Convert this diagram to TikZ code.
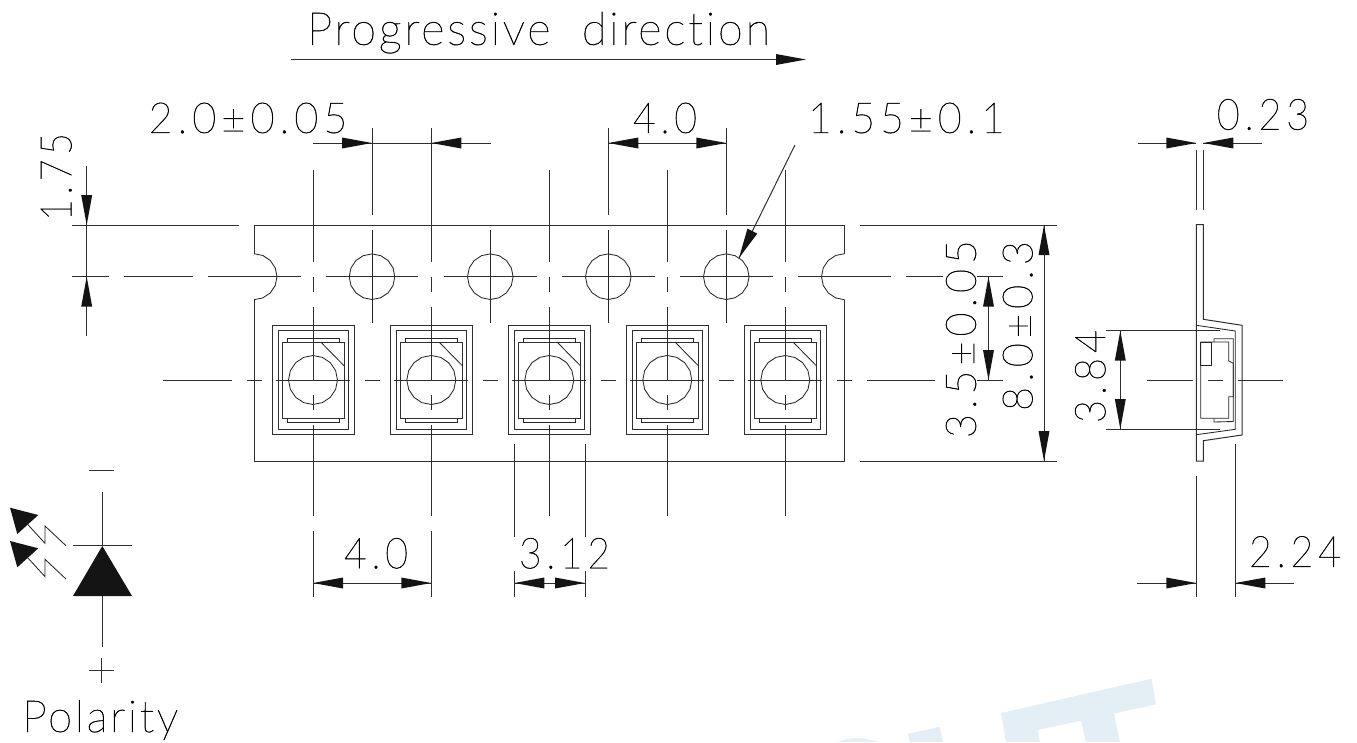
\documentclass[tikz,border=0pt]{standalone}
\usepackage{graphicx}
\usepackage{fontspec}
\setmainfont{Lato Thin}[LetterSpace=12,FakeBold=1]
\newfontfamily\wordfont{Lato Thin}[LetterSpace=6,FakeBold=1,Ligatures=NoCommon]
\tikzset{
  ln/.style={line width=1pt,draw=black!82,line cap=butt,line join=miter},
  thinln/.style={line width=0.85pt,draw=black!85,line cap=butt,line join=miter},
  txt/.style={inner sep=0pt,outer sep=0pt,text=black,font=\fontsize{42}{46}\selectfont}
}
\definecolor{wmblue}{HTML}{E3EEF5}
% text of given width and total height, centred at a point
\newcommand{\cadtext}[6][0]{\node[txt,rotate=#1] (#2) at (#3) {\resizebox*{#4pt}{#5pt}{#6}};}
% arrowhead: tip position, screen direction (clockwise from +x)
\newcommand{\tip}[2]{\fill[black!92,shift={(#1)},rotate=-#2] (0,0) -- (-30,5.5) -- (-30,-5.5) -- cycle;}
\newcommand{\holecirc}[3]{\draw[thinln] plot[samples at={0,22.5,...,360}] ({#1+#3*cos(\x)},{#2+#3*sin(\x)});}
\begin{document}
\begin{tikzpicture}[x=1pt,y=-1pt]
\useasboundingbox (0,0) rectangle (1357,742);
% watermark
\fill[wmblue] (1001,713) -- (1151.6,678.7) -- (1155.9,704.3) -- (1113.9,713.6) -- (1120,742) -- (1086,742) -- (1081,720.7) -- (1037.7,730) -- (1040,742) -- (1006,742) -- cycle;
\fill[wmblue] (907.8,733.9) -- (939.5,726.8) -- (943,742) -- (910,742) -- cycle;
\fill[wmblue] (838,742) .. controls (850,737) and (865,737) .. (878,742) -- cycle;
% tape outline
\draw[ln] (254,253.5) -- (254,225) -- (844.5,225) -- (844.5,253.5);
\draw[ln] (254,300) -- (254,461) -- (844.5,461) -- (844.5,300);
\draw[thinln] plot[samples at={-90,-67.5,...,90}] ({254+23*cos(\x)},{276.7+23*sin(\x)});
\draw[thinln] plot[samples at={90,112.5,...,270}] ({844.5+23*cos(\x)},{276.7+23*sin(\x)});
% sprocket holes
\foreach \c in {372,490.3,608.3,726.3}{
  \holecirc{\c}{276.7}{22.8}
  \draw[thinln] (\c,230) -- (\c,323.3);
}
% pockets
\foreach \c in {313,431.3,549.3,667.3,785.3}{
  \draw[ln] (\c-40.7,325.7) rectangle (\c+41,434.7);
  \draw[ln] (\c-35,330.7) rectangle (\c+35.3,429.3);
  \draw[ln] (\c-30.7,342.3) rectangle (\c+31.3,418.3);
  \draw[thinln] (\c-26,342.3) -- (\c-26,338.3) -- (\c+26.3,338.3) -- (\c+26.3,342.3);
  \draw[thinln] (\c-26,418.3) -- (\c-26,422.3) -- (\c+26.3,422.3) -- (\c+26.3,418.3);
  \draw[thinln] (\c+8,342.3) -- (\c+31,365.7);
  \holecirc{\c}{380}{24.5}
  % vertical centre line, centre part
  \draw[ln] (\c,306.7) -- (\c,380);
  \draw[ln] (\c,395) -- (\c,410);
  \draw[ln] (\c,276.7) -- (\c,291.7);
  % horizontal centre line
  \draw[ln] (\c-37,380) -- (\c+37,380);
  \draw[ln] (\c+52,380) -- (\c+67,380);
}
% horizontal centre lines
\draw[ln] (163,380) -- (232,380);
\draw[ln] (246.7,380) -- (261.7,380);
\draw[ln] (866.7,380) -- (935,380);
\draw[ln] (976.7,380) -- (1003,380);
\draw[ln] (72.3,276.7) -- (109.3,276.7);
\draw[ln] (124,276.7) -- (193,276.7);
\draw[ln] (207.7,276.7) -- (300.7,276.7);
\foreach \c in {325.7,444,562,680}{\draw[ln] (\c,276.7) -- (\c+92.7,276.7);}
\draw[ln] (798,276.7) -- (890.7,276.7);
\draw[ln] (906,276.7) -- (943,276.7);
\draw[ln] (976.7,276.7) -- (1003,276.7);
% vertical centre lines, outer parts
\draw[ln] (313,170) -- (313,261.7);
\draw[ln] (431.3,128) -- (431.3,261.7);
\draw[ln] (549.3,170) -- (549.3,261.7);
\draw[ln] (667.3,170) -- (667.3,261.7);
\draw[ln] (785.3,170) -- (785.3,261.7);
\draw[ln] (313,425) -- (313,516); \draw[ln] (313,531) -- (313,597);
\draw[ln] (431.3,425) -- (431.3,516); \draw[ln] (431.3,531) -- (431.3,597);
\draw[ln] (549.3,425) -- (549.3,516);
\draw[ln] (667.3,425) -- (667.3,516);
\draw[ln] (785.3,425) -- (785.3,516);
\draw[ln] (514.3,444) -- (514.3,536.7); \draw[ln] (514.3,571) -- (514.3,597);
\draw[ln] (585,444) -- (585,536.7); \draw[ln] (585,571) -- (585,597);
\draw[ln] (372,128) -- (372,215);
\draw[ln] (608.3,128) -- (608.3,215);
\draw[ln] (726.3,128) -- (726.3,215);
% top dimensions
\draw[ln] (313,143) -- (491,143); \tip{372,143}{0} \tip{431.3,143}{180}
\draw[ln] (608.3,143) -- (726.3,143); \tip{608.3,143}{180} \tip{726.3,143}{0}
\draw[ln] (795,145) -- (739,258); \tip{739,258}{116.4}
% left dim
\draw[ln] (72.3,225) -- (239.3,225);
\draw[ln] (86.7,166) -- (86.7,335.7); \tip{86.7,225}{90} \tip{86.7,276.7}{-90}
% right dim
\draw[ln] (860,225) -- (1057,225);
\draw[ln] (860,461) -- (1057,461);
\draw[ln] (1044,225) -- (1044,461); \tip{1044,225}{-90} \tip{1044,461}{90}
\draw[ln] (988.5,276.7) -- (988.5,380); \tip{988.5,276.7}{-90} \tip{988.5,380}{90}
% bottom dims
\draw[ln] (313,583) -- (431.3,583); \tip{313,583}{180} \tip{431.3,583}{0}
\draw[ln] (514.3,583) -- (585,583); \tip{514.3,583}{180} \tip{585,583}{0}
% side view
\draw[ln] (1196.3,224.7) -- (1203.3,224.7) -- (1203.3,319.3) -- (1242,325.3) -- (1242,435) -- (1203.3,440.7) -- (1203.3,461) -- (1196.3,461) -- cycle;
\draw[thinln] (1196.3,325.3) -- (1235.3,331) -- (1235.3,429.3) -- (1196.3,434.7);
\draw[thinln] (1200.7,342) -- (1228.7,342) -- (1228.7,361) -- (1233.3,363.3) -- (1233.3,396.7) -- (1228.7,396.7) -- (1228.7,418.3) -- (1200.7,418.3) -- cycle;
\draw[thinln] (1200.7,342) rectangle (1211.7,365.7);
\draw[thinln] (1214,342) -- (1214,338.7) -- (1233.3,338.7) -- (1233.3,421.5) -- (1214,422) -- (1214,418.3);
\draw[ln] (1147.3,380) -- (1193.3,380);
\draw[ln] (1208.3,380) -- (1223.3,380);
\draw[ln] (1237.7,380) -- (1283.3,380);
\draw[ln] (1105.7,330.7) -- (1220,330.7);
\draw[ln] (1105.7,429) -- (1220,429);
\draw[ln] (1120.3,330.7) -- (1120.3,429); \tip{1120.3,330.7}{-90} \tip{1120.3,429}{90}
\draw[ln] (1196.3,150) -- (1196.3,210);
\draw[ln] (1203.3,150) -- (1203.3,210);
\draw[ln] (1137.7,143) -- (1196.3,143); \tip{1196.3,143}{0}
\draw[ln] (1203.3,143) -- (1261.7,143); \tip{1203.3,143}{180}
\draw[ln] (1196.3,476) -- (1196.3,597);
\draw[ln] (1235.3,444) -- (1235.3,597);
\draw[ln] (1137.3,583) -- (1196.3,583); \tip{1196.3,583}{0}
\draw[ln] (1235.3,583) -- (1294,583); \tip{1235.3,583}{180}
% progressive arrow
\draw[ln] (291,59.5) -- (780,59.5); \tip{806,59.5}{0}
% LED symbol
\draw[ln] (89,470) -- (114,470);
\draw[ln] (102.3,491.7) -- (102.3,546);
\draw[ln] (73.3,545.7) -- (131.7,545.7);
\fill[black!92] (102.3,546) -- (132,596) -- (73,596) -- cycle;
\draw[ln] (102.3,596) -- (102.3,646.7);
\draw[ln] (89,670) -- (114,670);
\draw[ln] (101.5,658) -- (101.5,683);
\foreach \d in {0,33.3}{
  \fill[black!92] (10,507.7+\d) -- (38.3,515+\d) -- (17.3,534+\d) -- cycle;
  \draw[thinln] (27.3,524+\d) -- (45,543.3+\d) -- (45,526+\d) -- (66,545.7+\d);
}
% texts
\cadtext{t1}{538.5,32.7}{463}{41.5}{\wordfont Progressive\ \ direction}
\cadtext{t2}{248,118}{199}{30.6}{2.0±0.05}
\cadtext{t3}{665,118}{64}{30.6}{4.0}
\cadtext{t4}{906.5,118}{197}{30.6}{1.55±0.1}
\cadtext{t5}{1263,114.5}{92.5}{31}{0.23}
\cadtext[90]{t6}{56.2,177}{88}{31}{1.75}
\cadtext[90]{t7}{961,339}{198}{30.3}{3.5±0.05}
\cadtext[90]{t8}{1017.7,326}{170}{30}{8.0±0.3}
\cadtext[90]{t9}{1090.3,376.5}{93}{30.6}{3.84}
\cadtext{t10}{376,553.3}{64}{30.6}{4.0}
\cadtext{t11}{564.5,553.3}{91}{30.6}{3.12}
\cadtext{t12}{1295,551.7}{92}{31}{2.24}
\cadtext{t13}{100.3,720}{156}{40}{\wordfont Polarity}
\end{tikzpicture}
\end{document}
